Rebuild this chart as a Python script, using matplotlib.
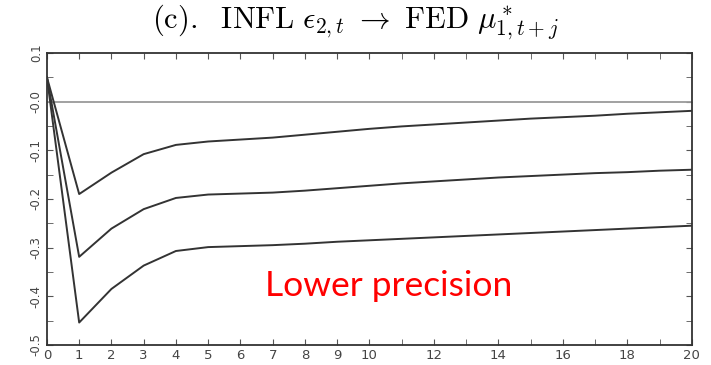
import matplotlib
matplotlib.use("Agg")
import matplotlib.pyplot as plt
from matplotlib.ticker import MultipleLocator

horizon = list(range(21))
upper = [0.05, -0.19, -0.146, -0.108, -0.089, -0.082, -0.078, -0.074, -0.068, -0.062, -0.056,
         -0.051, -0.047, -0.043, -0.039, -0.035, -0.032, -0.029, -0.025, -0.022, -0.019]
middle = [0.05, -0.319, -0.261, -0.221, -0.198, -0.191, -0.189, -0.187, -0.183, -0.178, -0.173,
          -0.168, -0.164, -0.160, -0.156, -0.153, -0.150, -0.147, -0.145, -0.142, -0.140]
lower = [0.05, -0.454, -0.385, -0.337, -0.307, -0.299, -0.297, -0.295, -0.292, -0.288, -0.285,
         -0.282, -0.279, -0.276, -0.273, -0.270, -0.267, -0.264, -0.261, -0.258, -0.255]
xtick_vals = [0, 1, 2, 3, 4, 5, 6, 7, 8, 9, 10, 12, 14, 16, 18, 20]
ytick_vals = [0.1, 0.0, -0.1, -0.2, -0.3, -0.4, -0.5]
ytick_labels = ["0.1", "-0.0", "-0.1", "-0.2", "-0.3", "-0.4", "-0.5"]

plt.rcParams['mathtext.fontset'] = 'cm'

fig = plt.figure(figsize=(7.11, 3.65), dpi=100)
ax = fig.add_axes([0.066, 0.055, 0.907, 0.8])

ax.axhline(0, color='#9a9a9a', lw=1.3)
for s in (upper, middle, lower):
    ax.plot(horizon, s, color='#333333', lw=1.4)

ax.set_xlim(0, 20)
ax.set_ylim(-0.5, 0.1)
ax.set_xticks(xtick_vals)
ax.set_xticklabels([str(v) for v in xtick_vals], color='#444444', fontsize=9.5)
ax.xaxis.set_minor_locator(MultipleLocator(1))
ax.set_yticks(ytick_vals)
ax.set_yticklabels(ytick_labels, rotation=90, va='center', color='#444444', fontsize=8.5)
ax.yaxis.set_minor_locator(MultipleLocator(0.05))
ax.tick_params(which='both', direction='in', top=True, right=True, length=4,
               color='#555555', pad=3)
for sp in ax.spines.values():
    sp.set_color('#333333')
    sp.set_linewidth(1.3)

fig.text(0.50, 0.94,
         r'$\mathrm{(c).\ \ INFL}\ \epsilon_{2,t}\ \rightarrow\ \mathrm{FED}\ \mu^*_{1,t+j}$',
         ha='center', va='center', fontsize=22)
fig.text(0.546, 0.216, 'Lower precision', color='red', fontsize=25.5,
         family='Lato', ha='center', va='center')

fig.savefig('out.png', dpi=100)
